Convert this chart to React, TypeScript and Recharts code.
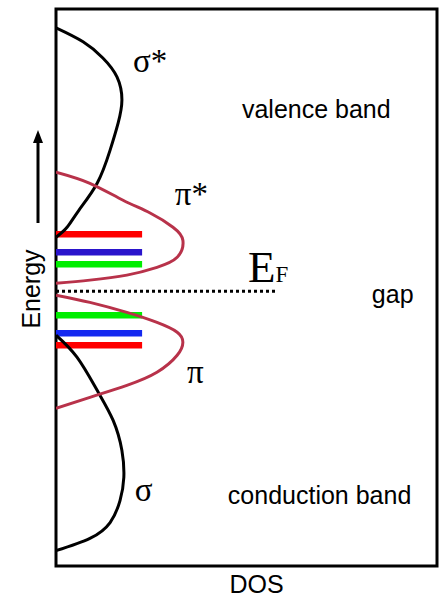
import { ComposedChart, Scatter, XAxis, YAxis, ReferenceArea, ReferenceLine } from 'recharts'

// axis ranges (DOS in arbitrary units, energy with E_F = 0)
const X_MAX = 10
const E_MIN = -9.87
const E_MAX = 10.14

// DOS curves: x = DOS, y = energy
const sigmaStar = [
  { x: 0, y: 9.46 }, { x: 0.71, y: 8.96 }, { x: 1.23, y: 8.38 }, { x: 1.6, y: 7.7 },
  { x: 1.73, y: 6.87 }, { x: 1.63, y: 6.04 }, { x: 1.42, y: 5.07 }, { x: 1.08, y: 3.88 },
  { x: 0.6, y: 2.91 }, { x: 0.29, y: 2.3 }, { x: 0, y: 1.94 },
]
const piStar = [
  { x: 0, y: 4.28 }, { x: 0.89, y: 3.88 }, { x: 1.76, y: 3.27 }, { x: 2.47, y: 2.81 },
  { x: 3.07, y: 2.3 }, { x: 3.33, y: 1.83 }, { x: 3.18, y: 1.22 }, { x: 2.65, y: 0.86 },
  { x: 1.86, y: 0.58 }, { x: 0.89, y: 0.4 }, { x: 0, y: 0.29 },
]
const pi = [
  { x: 0, y: -0.14 }, { x: 0.89, y: -0.4 }, { x: 1.86, y: -0.76 }, { x: 2.65, y: -1.12 },
  { x: 3.18, y: -1.47 }, { x: 3.33, y: -1.83 }, { x: 3.18, y: -2.3 }, { x: 2.65, y: -2.91 },
  { x: 1.86, y: -3.38 }, { x: 0.89, y: -3.81 }, { x: 0, y: -4.21 },
]
const sigma = [
  { x: 0, y: -1.58 }, { x: 0.55, y: -2.37 }, { x: 1.08, y: -3.56 }, { x: 1.5, y: -4.64 },
  { x: 1.73, y: -5.72 }, { x: 1.78, y: -6.69 }, { x: 1.68, y: -7.52 }, { x: 1.42, y: -8.31 },
  { x: 0.89, y: -8.88 }, { x: 0, y: -9.32 },
]

// discrete levels near the gap
const upperLevels = [2.05, 1.4, 0.97]
const lowerLevels = [-0.86, -1.51, -1.94]
const levelLength = 2.26
const fermiLength = 5.8

const greekLabels = [
  { x: 2.02, y: 7.88, text: 'σ*' },
  { x: 3.12, y: 3.09, text: 'π*' },
  { x: 3.44, y: -3.31, text: 'π' },
  { x: 2.07, y: -7.52, text: 'σ' },
]
const bandLabels = [
  { x: 4.88, y: 6.22, text: 'valence band' },
  { x: 8.29, y: -0.43, text: 'gap' },
  { x: 4.51, y: -7.63, text: 'conduction band' },
]
const fermiLabel = [{ x: 5.04, y: 0.32 }]

const UPPER_COLORS = ['#ff0000', '#2a14cc', '#00ee00']
const LOWER_COLORS = ['#00ee00', '#1428f0', '#ff0000']
const RED_CURVE = '#b8324a'
const SANS = '"Liberation Sans", Arial, sans-serif'
const SERIF = '"Liberation Serif", "Times New Roman", serif'

const NoDot = () => <g />

function GreekText(p: any) {
  return (
    <text x={p.cx} y={p.cy} fontFamily={SERIF} fontSize={33} fill="#000">
      {p.payload.text}
    </text>
  )
}

function BandText(p: any) {
  return (
    <text x={p.cx} y={p.cy} fontFamily={SANS} fontSize={25} fill="#000">
      {p.payload.text}
    </text>
  )
}

function FermiText(p: any) {
  return (
    <text x={p.cx} y={p.cy} fontFamily={SERIF} fill="#000">
      <tspan fontSize={45}>E</tspan>
      <tspan fontSize={23}>F</tspan>
    </text>
  )
}

function EnergyLabel({ viewBox }: any) {
  const { x, y } = viewBox
  const ax = x + 38
  return (
    <g>
      <text
        x={x + 40}
        y={y + 280}
        transform={`rotate(-90 ${x + 40} ${y + 280})`}
        textAnchor="middle"
        fontFamily={SANS}
        fontSize={25}
        fill="#000"
      >
        Energy
      </text>
      <line x1={ax} y1={y + 214} x2={ax} y2={y + 130} stroke="#000" strokeWidth={3} />
      <polygon points={`${ax},${y + 121} ${ax - 5},${y + 134} ${ax + 5},${y + 134}`} fill="#000" />
    </g>
  )
}

function DosLabel({ viewBox }: any) {
  const { x, y, width, height } = viewBox
  return (
    <text x={x + width / 2 + 10} y={y + height - 4} textAnchor="middle" fontFamily={SANS} fontSize={25} fill="#000">
      DOS
    </text>
  )
}

export default function App() {
  return (
    <div style={{ position: 'absolute', left: 0, top: 0, width: 441, height: 597, background: '#fff' }}>
      <ComposedChart width={441} height={597} margin={{ top: 9, right: 4, bottom: 0, left: 0 }}>
        <XAxis
          type="number"
          dataKey="x"
          domain={[0, X_MAX]}
          allowDataOverflow
          tick={false}
          tickLine={false}
          axisLine={false}
          height={31}
          label={<DosLabel />}
        />
        <YAxis
          type="number"
          dataKey="y"
          domain={[E_MIN, E_MAX]}
          allowDataOverflow
          tick={false}
          tickLine={false}
          axisLine={false}
          width={56}
          label={<EnergyLabel />}
        />

        {upperLevels.map((e, i) => (
          <ReferenceLine
            key={`u-${i}`}
            segment={[{ x: 0, y: e }, { x: levelLength, y: e }]}
            stroke={UPPER_COLORS[i]}
            strokeWidth={6.5}
          />
        ))}
        {lowerLevels.map((e, i) => (
          <ReferenceLine
            key={`l-${i}`}
            segment={[{ x: 0, y: e }, { x: levelLength, y: e }]}
            stroke={LOWER_COLORS[i]}
            strokeWidth={6.5}
          />
        ))}
        <ReferenceLine
          segment={[{ x: 0, y: 0 }, { x: fermiLength, y: 0 }]}
          stroke="#000"
          strokeWidth={3}
          strokeDasharray="3 3"
        />

        <Scatter data={sigmaStar} fill="#000" line={{ stroke: '#000', strokeWidth: 3 }} lineJointType="natural" shape={NoDot} isAnimationActive={false} />
        <Scatter data={sigma} fill="#000" line={{ stroke: '#000', strokeWidth: 3 }} lineJointType="natural" shape={NoDot} isAnimationActive={false} />
        <Scatter data={piStar} fill={RED_CURVE} line={{ stroke: RED_CURVE, strokeWidth: 3 }} lineJointType="natural" shape={NoDot} isAnimationActive={false} />
        <Scatter data={pi} fill={RED_CURVE} line={{ stroke: RED_CURVE, strokeWidth: 3 }} lineJointType="natural" shape={NoDot} isAnimationActive={false} />

        <ReferenceArea x1={0} x2={X_MAX} y1={E_MIN} y2={E_MAX} fill="none" fillOpacity={0} stroke="#000" strokeWidth={3} />

        <Scatter data={greekLabels} shape={GreekText} isAnimationActive={false} />
        <Scatter data={bandLabels} shape={BandText} isAnimationActive={false} />
        <Scatter data={fermiLabel} shape={FermiText} isAnimationActive={false} />
      </ComposedChart>
    </div>
  )
}
